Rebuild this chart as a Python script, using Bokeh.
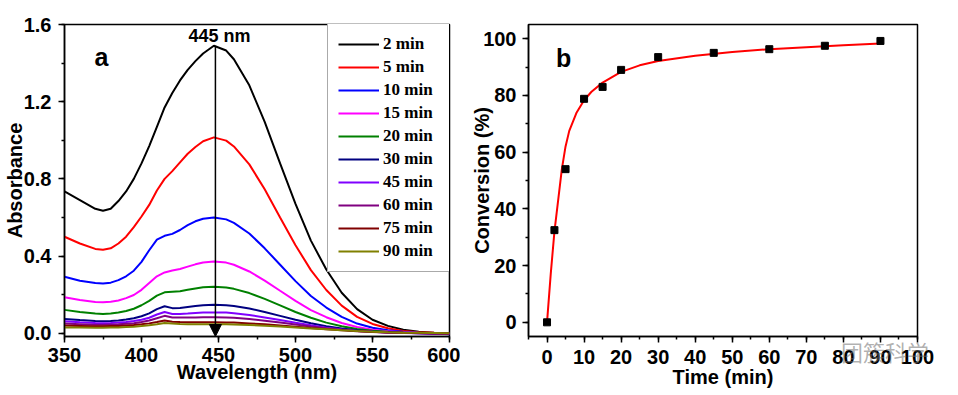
from bokeh.plotting import figure
from bokeh.models import (Range1d, SingleIntervalTicker, Legend, LegendItem, Arrow,
                          NormalHead, Label, PrintfTickFormatter, Div)
from bokeh.layouts import row
from bokeh.embed import file_html
from bokeh.resources import INLINE

# ---------------- Panel a: UV-vis spectra ----------------
WAVELENGTH = [350, 360, 370, 375, 380, 385, 390, 395, 400, 405,
              410, 415, 420, 425, 430, 435, 440, 447, 455, 460,
              470, 480, 490, 500, 510, 520, 530, 540, 550, 560,
              570, 580, 590, 600]

A_2MIN = [0.735, 0.69, 0.645, 0.635, 0.645, 0.685, 0.735, 0.80, 0.88, 0.97,
          1.07, 1.17, 1.245, 1.31, 1.365, 1.41, 1.45, 1.49, 1.465, 1.42,
          1.285, 1.095, 0.88, 0.67, 0.48, 0.33, 0.21, 0.125, 0.07, 0.038,
          0.018, 0.008, 0.003, 0.0]
A_5MIN = [0.50, 0.465, 0.437, 0.433, 0.44, 0.465, 0.50, 0.55, 0.605, 0.665,
          0.74, 0.80, 0.84, 0.885, 0.93, 0.965, 0.995, 1.015, 0.998, 0.968,
          0.875, 0.746, 0.60, 0.456, 0.327, 0.224, 0.143, 0.085, 0.048, 0.026,
          0.012, 0.005, 0.002, 0.0]
A_10MIN = [0.293, 0.272, 0.26, 0.258, 0.262, 0.275, 0.295, 0.324, 0.37, 0.43,
           0.485, 0.505, 0.515, 0.535, 0.56, 0.58, 0.593, 0.60, 0.59, 0.572,
           0.517, 0.44, 0.355, 0.27, 0.193, 0.133, 0.085, 0.05, 0.028, 0.015,
           0.007, 0.002, -0.002, -0.005]
A_15MIN = [0.186, 0.172, 0.162, 0.16, 0.163, 0.17, 0.182, 0.198, 0.225, 0.26,
           0.295, 0.315, 0.325, 0.333, 0.345, 0.357, 0.367, 0.372, 0.366, 0.355,
           0.32, 0.273, 0.22, 0.168, 0.12, 0.083, 0.053, 0.032, 0.018, 0.01,
           0.005, 0.001, -0.001, -0.003]
A_20MIN = [0.121, 0.11, 0.102, 0.10, 0.102, 0.107, 0.115, 0.127, 0.145, 0.168,
           0.195, 0.212, 0.215, 0.218, 0.225, 0.232, 0.238, 0.241, 0.237, 0.23,
           0.208, 0.178, 0.144, 0.11, 0.08, 0.055, 0.036, 0.022, 0.013, 0.007,
           0.003, 0.001, 0.0, -0.002]
A_30MIN = [0.074, 0.068, 0.063, 0.062, 0.063, 0.066, 0.071, 0.078, 0.088, 0.103,
           0.125, 0.14, 0.13, 0.131, 0.136, 0.141, 0.145, 0.147, 0.145, 0.141,
           0.128, 0.11, 0.09, 0.07, 0.052, 0.036, 0.024, 0.015, 0.009, 0.005,
           0.002, 0.0, -0.001, -0.002]
A_45MIN = [0.062, 0.057, 0.053, 0.052, 0.053, 0.055, 0.058, 0.063, 0.07, 0.08,
           0.097, 0.11, 0.1, 0.1, 0.102, 0.105, 0.107, 0.108, 0.107, 0.104,
           0.095, 0.082, 0.068, 0.054, 0.041, 0.029, 0.019, 0.012, 0.007, 0.003,
           0.001, 0.0, -0.002, -0.004]
A_60MIN = [0.05, 0.047, 0.044, 0.044, 0.045, 0.046, 0.049, 0.052, 0.058, 0.066,
           0.078, 0.09, 0.082, 0.081, 0.081, 0.082, 0.083, 0.083, 0.082, 0.08,
           0.074, 0.065, 0.055, 0.045, 0.035, 0.026, 0.018, 0.012, 0.007, 0.004,
           0.002, 0.0, -0.001, -0.002]
A_75MIN = [0.04, 0.038, 0.036, 0.036, 0.037, 0.038, 0.04, 0.042, 0.046, 0.051,
           0.058, 0.066, 0.06, 0.058, 0.057, 0.057, 0.057, 0.057, 0.056, 0.055,
           0.051, 0.046, 0.04, 0.034, 0.027, 0.021, 0.015, 0.01, 0.006, 0.004,
           0.002, 0.001, 0.0, -0.001]
A_90MIN = [0.03, 0.029, 0.028, 0.028, 0.029, 0.03, 0.032, 0.034, 0.037, 0.041,
           0.046, 0.053, 0.05, 0.048, 0.047, 0.047, 0.047, 0.046, 0.046, 0.045,
           0.043, 0.039, 0.035, 0.03, 0.025, 0.02, 0.015, 0.011, 0.008, 0.005,
           0.003, 0.002, 0.001, 0.0]

SERIES_LABELS = ["2 min", "5 min", "10 min", "15 min", "20 min",
                 "30 min", "45 min", "60 min", "75 min", "90 min"]
SERIES_VALUES = [A_2MIN, A_5MIN, A_10MIN, A_15MIN, A_20MIN,
                 A_30MIN, A_45MIN, A_60MIN, A_75MIN, A_90MIN]
SERIES_COLORS = ["#000000", "#ff0000", "#0000ff", "#ff00ff", "#008000",
                 "#000080", "#8000ff", "#800080", "#800000", "#808000"]

PEAK_NM = 448
PEAK_ABS = 1.49
PEAK_LABEL = "445 nm"

# ---------------- Panel b: conversion ----------------
TIME_MIN = [0, 2, 5, 10, 15, 20, 30, 45, 60, 75, 90]
CONVERSION = [0, 32.5, 54, 78.8, 83, 89, 93.5, 95, 96.3, 97.5, 99.2]
FIT_TIME = [0, 1, 2, 3, 4, 5, 6, 8, 10, 12, 15, 20, 25, 30, 40, 50, 60, 70, 80, 90]
FIT_CONV = [0, 17, 32, 43, 54, 62, 67.5, 74, 78.3, 81.3, 84.5, 88.3, 90.6, 92.1,
            94.0, 95.3, 96.3, 97.0, 97.7, 98.3]

WATERMARK = "团簇科学"

SANS = "Liberation Sans"
SERIF = "Liberation Serif"


def style_axes(p, xint, yint):
    p.grid.visible = False
    p.outline_line_color = "black"
    p.outline_line_width = 1.5
    p.outline_line_alpha = 1.0
    p.background_fill_color = "white"
    p.border_fill_color = "white"
    p.xaxis.ticker = SingleIntervalTicker(interval=xint, num_minor_ticks=2)
    p.yaxis.ticker = SingleIntervalTicker(interval=yint, num_minor_ticks=2)
    for ax in (p.xaxis[0], p.yaxis[0]):
        ax.axis_line_width = 1.5
        ax.major_tick_line_width = 1.5
        ax.minor_tick_line_width = 1.5
        ax.major_tick_out = 6
        ax.major_tick_in = 0
        ax.minor_tick_out = 3
        ax.minor_tick_in = 0
        ax.major_label_text_font = SANS
        ax.major_label_text_font_style = "bold"
        ax.major_label_text_font_size = "20px"
        ax.major_label_text_color = "black"
        ax.axis_label_text_font = SANS
        ax.axis_label_text_font_style = "bold"
        ax.axis_label_text_font_size = "20px"
        ax.axis_label_text_color = "black"


# ---- figure a ----
pa = figure(width=460, height=395, x_range=Range1d(350, 600), y_range=Range1d(-0.017, 1.6),
            output_backend="svg", toolbar_location=None,
            min_border_left=64, min_border_right=11, min_border_top=23, min_border_bottom=59,
            x_axis_label="Wavelength (nm)", y_axis_label="Absorbance")
style_axes(pa, 50, 0.4)
pa.yaxis.formatter = PrintfTickFormatter(format="%.1f")
pa.xaxis.major_label_standoff = 5
pa.xaxis.axis_label_standoff = -4
pa.yaxis.major_label_standoff = 7
pa.yaxis.axis_label_standoff = -5

items = []
for lab, vals, col in zip(SERIES_LABELS, SERIES_VALUES, SERIES_COLORS):
    r = pa.line(WAVELENGTH, vals, line_color=col, line_width=2)
    items.append(LegendItem(label=lab, renderers=[r]))

pa.add_layout(Arrow(end=NormalHead(size=12, fill_color="black", line_color="black"),
                    x_start=PEAK_NM, y_start=PEAK_ABS, x_end=PEAK_NM, y_end=-0.017,
                    line_color="black", line_width=1.5))
pa.add_layout(Label(x=PEAK_NM, y=PEAK_ABS, x_offset=4, y_offset=0, text=PEAK_LABEL,
                    text_font=SANS, text_font_style="bold", text_font_size="18px",
                    text_align="center", text_baseline="bottom", text_color="black"))
pa.add_layout(Label(x=374, y=1.43, text="a", text_font=SANS, text_font_style="bold",
                    text_font_size="25px", text_align="center", text_baseline="alphabetic",
                    text_color="black"))

legend = Legend(items=items, location=(263, 64), orientation="vertical",
                padding=10, spacing=3, margin=0,
                label_height=20, glyph_height=20, glyph_width=41,
                label_standoff=4, label_width=57,
                border_line_color="#555555", border_line_width=1,
                background_fill_color="white", background_fill_alpha=1.0,
                label_text_font=SERIF, label_text_font_style="bold",
                label_text_font_size="17px", label_text_color="black")
pa.add_layout(legend, "center")

# ---- figure b ----
pb = figure(width=498, height=395, x_range=Range1d(-5, 100), y_range=Range1d(-5, 105),
            output_backend="svg", toolbar_location=None,
            min_border_left=68, min_border_right=41, min_border_top=24, min_border_bottom=54,
            x_axis_label="Time (min)", y_axis_label="Conversion (%)")
style_axes(pb, 10, 20)
pb.xaxis.major_label_text_line_height = 1.0
pb.xaxis.axis_label_text_line_height = 1.0
pb.xaxis.major_label_standoff = 7
pb.xaxis.axis_label_standoff = -1
pb.yaxis.major_label_standoff = 6
pb.yaxis.axis_label_standoff = -13

pb.line(FIT_TIME, FIT_CONV, line_color="#ff0000", line_width=2)
pb.scatter(TIME_MIN, CONVERSION, marker="square", size=7, fill_color="black", line_color="black")
pb.add_layout(Label(x=4.5, y=93.3, text="b", text_font=SANS, text_font_style="bold",
                    text_font_size="25px", text_align="center", text_baseline="alphabetic",
                    text_color="black"))

watermark = Div(text=WATERMARK, width=100, height=30,
                styles={"position": "absolute", "left": "836px", "top": "331px",
                        "font-family": "Noto Sans CJK SC", "font-size": "22px",
                        "color": "rgba(110,110,110,0.55)", "pointer-events": "none"})

layout = row(pa, pb, watermark)
open("out.html", "w").write(file_html(layout, INLINE))
